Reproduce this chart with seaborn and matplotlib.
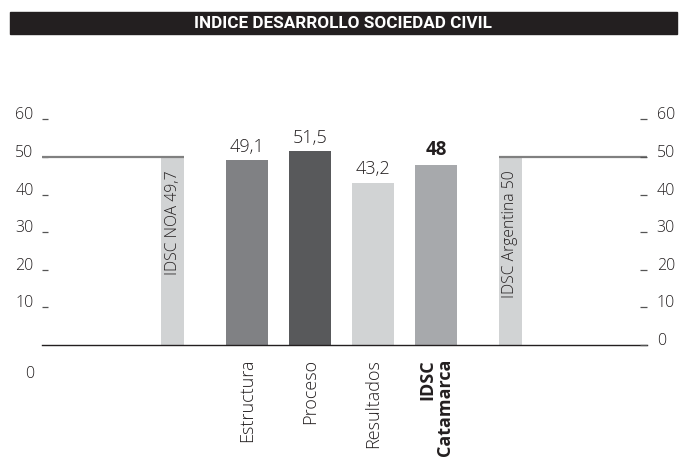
import matplotlib
matplotlib.use("Agg")
import matplotlib.pyplot as plt
import matplotlib.transforms as mtransforms
from matplotlib.patches import Rectangle
import seaborn as sns
import pandas as pd

# ---- data ----
categories = ["Estructura", "Proceso", "Resultados", "IDSC\nCatamarca"]
values = [49.1, 51.5, 43.2, 48.0]
value_labels = ["49,1", "51,5", "43,2", "48"]
bar_colors = ["#808184", "#58595b", "#d1d3d4", "#a7a9ac"]
positions = [2, 3, 4, 5]

ref_names = ["IDSC NOA 49,7", "IDSC Argentina 50"]
ref_values = [49.7, 50.0]
ref_positions = [0.82, 6.18]
ref_color = "#d1d3d4"

left_ticks = [10, 20, 30, 40, 50, 60]
left_tick_labels = ["10", "20", "30", "40", "50", "60"]
right_ticks = [0, 10, 20, 30, 40, 50, 60]
right_tick_labels = ["0", "10", "20", "30", "40", "50", "60"]

title = "INDICE DESARROLLO SOCIEDAD CIVIL"

sns.set_theme(style="white")
plt.rcParams["font.family"] = ["Open Sans", "DejaVu Sans"]
TXT = "#231f20"
LW = "light"

W, H = 686, 457
fig = plt.figure(figsize=(W / 100, H / 100), dpi=100)
ax = fig.add_axes([42 / W, (H - 345) / H, 605 / W, 233.1 / H])

main_df = pd.DataFrame({"x": positions, "y": values, "cat": categories})
ref_df = pd.DataFrame({"x": ref_positions, "y": ref_values, "cat": ref_names})

sns.barplot(data=main_df, x="x", y="y", hue="cat", palette=bar_colors,
            native_scale=True, width=42 / 63, legend=False, ax=ax,
            saturation=1, linewidth=0)
main_containers = list(ax.containers)
gap = ref_positions[1] - ref_positions[0]
sns.barplot(data=ref_df, x="x", y="y", color=ref_color, native_scale=True,
            width=(23 / 63) / gap, legend=False, ax=ax, saturation=1,
            linewidth=0)

ax.set_xlim(-79 / 63, 526 / 63)
ax.set_ylim(0, 62)
ax.set_xlabel("")
ax.set_ylabel("")

# value labels
for i, cont in enumerate(main_containers):
    bold = i == len(main_containers) - 1
    ax.bar_label(cont, labels=[value_labels[i]], padding=3,
                 fontsize=13.5 if bold else 13,
                 fontweight="bold" if bold else LW, color=TXT)

# reference lines at 50 level
half = (23 / 63) / 2
ax.hlines(50, -79 / 63, ref_positions[0] + half, color="#808080", lw=1.6, zorder=5)
ax.hlines(50, ref_positions[1] - half, 526 / 63, color="#808080", lw=1.6, zorder=5)

# text inside reference bars
for xp, name in zip(ref_positions, ref_names):
    ax.text(xp, 46.5, name, rotation=90, ha="center", va="top",
            fontsize=11.3, fontweight=LW, color=TXT, zorder=6)

# spines
for s in ["top", "left", "right"]:
    ax.spines[s].set_visible(False)
ax.spines["bottom"].set_color("#231f20")
ax.spines["bottom"].set_linewidth(1.0)

# x tick labels
ax.set_xticks(positions)
ax.set_xticklabels(categories, rotation=90, fontsize=13, color=TXT,
                   fontweight=LW)
ax.tick_params(axis="x", length=0, pad=10)
for lbl in ax.get_xticklabels():
    lbl.set_multialignment("right")
    lbl.set_linespacing(0.95)
ax.get_xticklabels()[-1].set_fontweight("bold")

# left y axis
ax.set_yticks(left_ticks)
ax.set_yticklabels(left_tick_labels, fontsize=11.5, color=TXT, va="baseline",
                   fontweight=LW)
ax.tick_params(axis="y", direction="in", length=4.5, width=0.9,
               color="#555555", pad=6, left=True)
trans = mtransforms.blended_transform_factory(ax.transAxes, ax.transData)
ax.text(-8 / 605, -7.7, "0", transform=trans, ha="right", va="center",
        fontsize=11.5, fontweight=LW, color=TXT, clip_on=False)

# right y axis
ax2 = ax.twinx()
ax2.set_ylim(ax.get_ylim())
ax2.set_yticks(right_ticks)
ax2.set_yticklabels(right_tick_labels, fontsize=11.5, color=TXT,
                    va="baseline", fontweight=LW)
ax2.tick_params(axis="y", direction="in", length=5, width=0.9,
                color="#555555", pad=7, right=True)
ax2.grid(False)
ax.grid(False)
for s in ["top", "left", "right", "bottom"]:
    ax2.spines[s].set_visible(False)

# title bar
fig.patches.append(Rectangle((10 / W, (H - 34) / H), 667 / W, 22 / H,
                             transform=fig.transFigure, color="#231f20",
                             zorder=0))
fig.text(343 / W, (H - 23) / H, title, ha="center", va="center",
         color="white", fontsize=12.3,
         family=["Liberation Sans Narrow", "Roboto", "DejaVu Sans"],
         fontweight="bold")

fig.savefig("out.png", dpi=100)
